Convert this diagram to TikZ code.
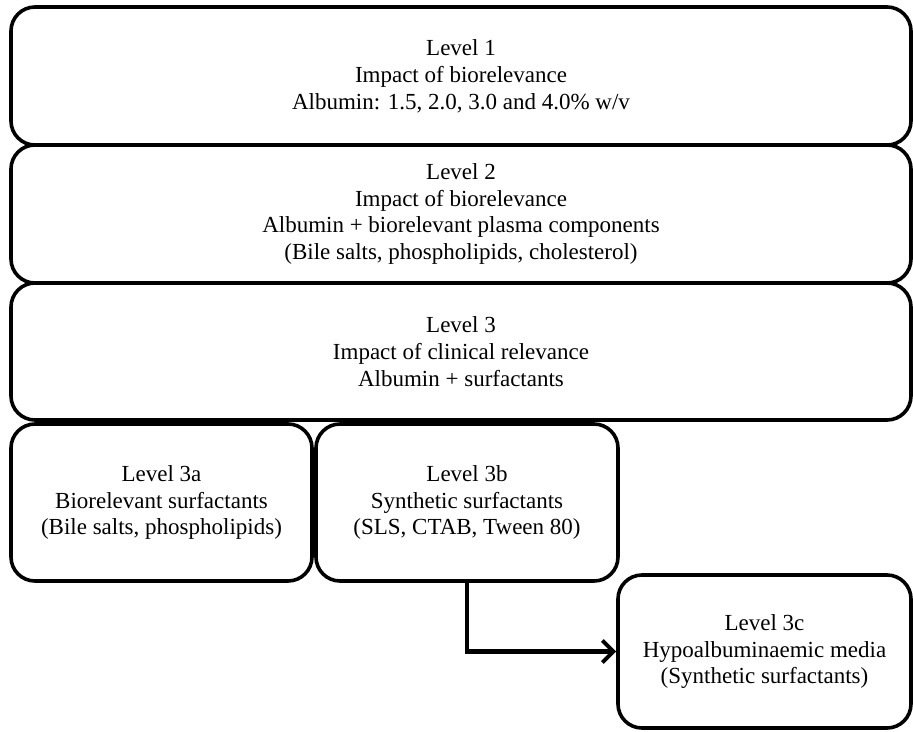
\documentclass[tikz,border=0pt]{standalone}
\usepackage{fontspec}
\setmainfont{Liberation Serif}
\usetikzlibrary{arrows.meta}
\begin{document}
\begin{tikzpicture}[x=1pt,y=1pt,
  levelbox/.style={draw=black, line width=3.6pt, rounded corners=24pt, fill=white,
    align=center, inner sep=0pt, font=\fontsize{23}{26.8}\selectfont},
  flowarrow/.style={draw=black, line width=4.6pt, -{Straight Barb[length=11pt,width=22pt,line width=4pt]}}]
\useasboundingbox (0,0) rectangle (913,-731);
\node[levelbox, minimum width=900pt, minimum height=138pt] (b1) at (461,-76)
  {Level  1\\Impact of biorelevance\\Albumin:  1.5, 2.0, 3.0 and 4.0\% w/v};
\node[levelbox, minimum width=900pt, minimum height=138pt] (b2) at (461,-214)
  {Level  2\\Impact of biorelevance\\Albumin  +  biorelevant  plasma  components\\(Bile  salts,  phospholipids,  cholesterol)};
\node[levelbox, minimum width=900pt, minimum height=137pt] (b3) at (461,-351.5)
  {Level  3\\Impact of clinical relevance\\Albumin  +  surfactants};
\node[levelbox, minimum width=301pt, minimum height=157pt] (b3a) at (161.5,-502.5)
  {Level  3a\\Biorelevant  surfactants\\(Bile  salts, phospholipids)};
\node[levelbox, minimum width=302pt, minimum height=157pt] (b3b) at (467,-502.5)
  {Level  3b\\Synthetic  surfactants\\(SLS, CTAB, Tween 80)};
\node[levelbox, minimum width=293pt, minimum height=153pt] (b3c) at (764.5,-651.5)
  {Level  3c\\Hypoalbuminaemic  media\\(Synthetic  surfactants)};
\draw[flowarrow] (b3b.south) |- (b3c.west);
\end{tikzpicture}
\end{document}
